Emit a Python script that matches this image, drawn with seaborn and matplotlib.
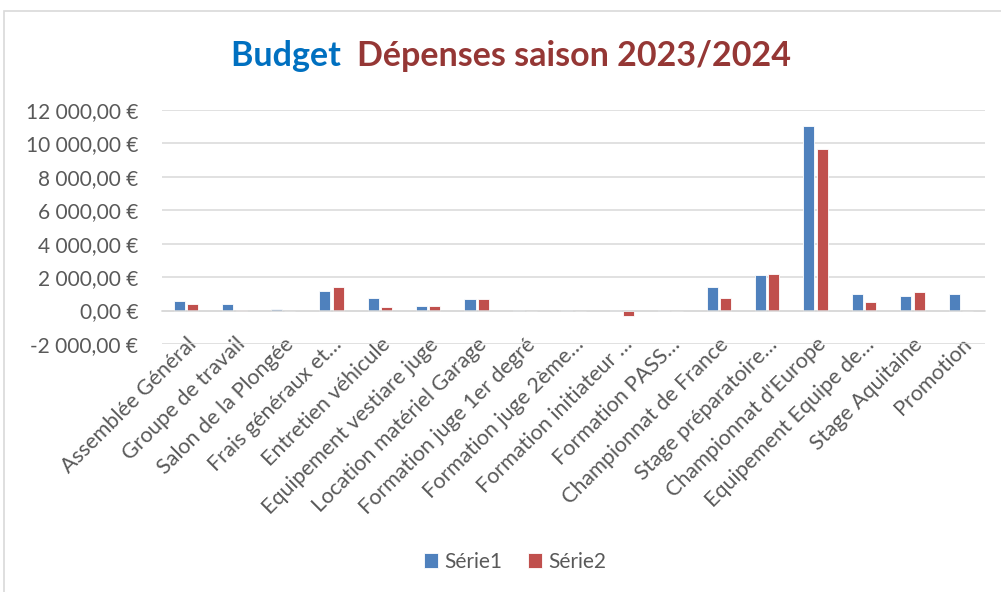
import pandas as pd
import numpy as np
import matplotlib.pyplot as plt
from matplotlib.patches import Rectangle
from matplotlib.ticker import FuncFormatter
import seaborn as sns

# Categories and values
categories = ['Assemblée Général', 'Groupe de travail', 'Salon de la Plongée',
              'Frais généraux et…', 'Entretien véhicule', 'Equipement vestiare juge',
              'Location matériel Garage', 'Formation juge 1er degré', 'Formation juge 2ème…',
              'Formation initiateur …', 'Formation PASS…', 'Championnat de France',
              'Stage préparatoire…', "Championnat d'Europe", 'Equipement Equipe de…',
              'Stage Aquitaine', 'Promotion']
serie1 = [580, 380, 100, 1180, 780, 280, 700, 20, 20, 20, 20, 1420, 2120, 11060, 980, 900, 980]
serie2 = [380, 20, 0, 1400, 240, 280, 700, 0, 0, -320, 0, 780, 2200, 9680, 540, 1120, 0]
series_names = ['Série1', 'Série2']

df = pd.DataFrame({'categorie': categories * 2,
                   'valeur': serie1 + serie2,
                   'serie': [series_names[0]] * len(categories) + [series_names[1]] * len(categories)})

sns.set_style('white')
plt.rcParams['font.family'] = ['Lato', 'DejaVu Sans']

grey = '#595959'
fig = plt.figure(figsize=(10.01, 5.92), dpi=100)
ax = fig.add_axes([162 / 1001, 1 - 344 / 592, (985 - 162) / 1001, (344 - 110) / 592])

sns.barplot(data=df, x='categorie', y='valeur', hue='serie', order=categories,
            palette=['#4F81BD', '#C0504D'], saturation=1, width=0.55, gap=0.17,
            edgecolor='white', linewidth=0.6, ax=ax)

ax.set_ylim(-2000, 12000)
ax.set_yticks(np.arange(-2000, 12001, 2000))
ax.yaxis.set_major_formatter(FuncFormatter(
    lambda v, p: '{:,.2f} €'.format(v).replace(',', ' ').replace('.', ',')))
ax.grid(axis='y', color='#D9D9D9', linewidth=1.1)
ax.set_axisbelow(True)
for s in ['top', 'right', 'left']:
    ax.spines[s].set_visible(False)
# category labels sit under the zero line, as in Excel
ax.spines['bottom'].set_position(('data', 0))
ax.spines['bottom'].set_color('#D9D9D9')
ax.spines['bottom'].set_linewidth(1.1)
ax.set_xlabel('')
ax.set_ylabel('')
ax.tick_params(axis='y', length=0, pad=17, labelsize=15, labelcolor=grey)
ax.tick_params(axis='x', length=0, pad=17, labelsize=15.5, labelcolor=grey)
plt.setp(ax.get_xticklabels(), rotation=45, ha='right', rotation_mode='anchor')

# legend at the bottom
ax.legend(loc='center', bbox_to_anchor=(515 / 1001, 1 - 562 / 592),
          bbox_transform=fig.transFigure, ncol=2, frameon=False,
          fontsize=15, labelcolor=grey, handlelength=0.7, handleheight=0.7,
          handletextpad=0.3, columnspacing=1.2)

# two-coloured title
t1 = fig.text(0, 1 - 56 / 592, 'Budget  ', color='#0070C0', fontsize=24.5,
              fontweight='bold', va='center')
t2 = fig.text(0, 1 - 56 / 592, 'Dépenses saison 2023/2024', color='#953735',
              fontsize=24.5, fontweight='bold', va='center')
fig.canvas.draw()
r = fig.canvas.get_renderer()
w1 = t1.get_window_extent(r).width
w2 = t2.get_window_extent(r).width
x0 = 511 - (w1 + w2) / 2
t1.set_x(x0 / 1001)
t2.set_x((x0 + w1) / 1001)

# chart area border
fig.patches.append(Rectangle((4 / 1001, -0.1), 1.2, 1 - 11 / 592 + 0.1,
                             transform=fig.transFigure, fill=False,
                             edgecolor='#D9D9D9', linewidth=1.2))

fig.savefig('out.png', dpi=100)
